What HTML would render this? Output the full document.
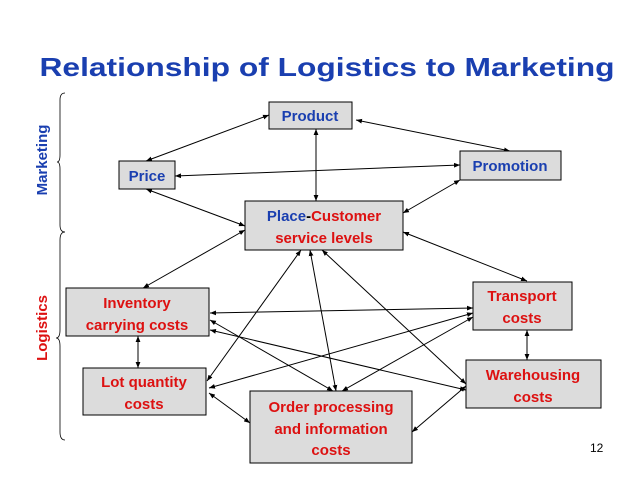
<!DOCTYPE html>
<html><head><meta charset="utf-8"><style>
html,body{margin:0;padding:0;background:#fff;}
svg{display:block;font-family:"Liberation Sans",Arial,sans-serif;}
</style></head><body>
<svg width="638" height="479" viewBox="0 0 638 479" xmlns="http://www.w3.org/2000/svg">
<defs>
<marker id="a" viewBox="0 0 10 10" refX="10" refY="5" markerWidth="6" markerHeight="6" orient="auto-start-reverse"><path d="M0,1 L10,5 L0,9 z" fill="#000"/></marker>
</defs>
<text x="327" y="76" text-anchor="middle" font-size="26" font-weight="bold" fill="#1a3fb0" textLength="575" lengthAdjust="spacingAndGlyphs">Relationship of Logistics to Marketing</text>
<text transform="translate(47,160) rotate(-90)" text-anchor="middle" font-size="15" font-weight="bold" fill="#1a3fb0">Marketing</text>
<text transform="translate(47,328) rotate(-90)" text-anchor="middle" font-size="15" font-weight="bold" fill="#dd1111">Logistics</text>
<g fill="none" stroke="#000" stroke-width="0.8">
<path d="M65,93 Q60,93 60,100 L60,155 Q60,162 57,162 Q60,162 60,169 L60,225 Q60,232 65,232"/>
<path d="M65,232 Q60,232 60,240 L60,330 Q60,338 56,338 Q60,338 60,346 L60,432 Q60,440 65,440"/>
</g>
<g stroke="#000" stroke-width="1" fill="none" marker-start="url(#a)" marker-end="url(#a)">
<line x1="269" y1="115" x2="146" y2="161"/>
<line x1="316" y1="129" x2="316" y2="201"/>
<line x1="356" y1="120" x2="510" y2="151"/>
<line x1="460" y1="165" x2="175" y2="176"/>
<line x1="146" y1="189" x2="245" y2="226"/>
<line x1="460" y1="180" x2="403" y2="213"/>
<line x1="245" y1="230" x2="143" y2="288"/>
<line x1="403" y1="232" x2="527" y2="281"/>
<line x1="301" y1="250" x2="207" y2="381"/>
<line x1="310" y1="250" x2="336" y2="391"/>
<line x1="322" y1="250" x2="466" y2="384"/>
<line x1="210" y1="313" x2="473" y2="308"/>
<line x1="210" y1="320" x2="333" y2="391"/>
<line x1="210" y1="330" x2="466" y2="390"/>
<line x1="138" y1="336" x2="138" y2="368"/>
<line x1="209" y1="388" x2="473" y2="313"/>
<line x1="209" y1="393" x2="250" y2="423"/>
<line x1="342" y1="391" x2="473" y2="317"/>
<line x1="412" y1="432" x2="466" y2="386"/>
<line x1="527" y1="330" x2="527" y2="360"/>
</g>
<g fill="#dcdcdc" stroke="#000" stroke-width="1">
<rect x="269" y="102" width="83" height="27"/>
<rect x="119" y="161" width="56" height="28"/>
<rect x="460" y="151" width="101" height="29"/>
<rect x="245" y="201" width="158" height="49"/>
<rect x="66" y="288" width="143" height="48"/>
<rect x="473" y="282" width="99" height="48"/>
<rect x="83" y="368" width="123" height="47"/>
<rect x="250" y="391" width="162" height="72"/>
<rect x="466" y="360" width="135" height="48"/>
</g>
<g font-size="15" font-weight="bold" text-anchor="middle">
<text x="310" y="121" fill="#1a3fb0">Product</text>
<text x="147" y="181" fill="#1a3fb0">Price</text>
<text x="510" y="171" fill="#1a3fb0">Promotion</text>
<text x="324" y="221"><tspan fill="#1a3fb0">Place</tspan><tspan fill="#000">-</tspan><tspan fill="#dd1111">Customer</tspan></text>
<text x="324" y="243" fill="#dd1111">service levels</text>
<g fill="#dd1111">
<text x="137" y="308">Inventory</text>
<text x="137" y="330">carrying costs</text>
<text x="522" y="301">Transport</text>
<text x="522" y="323">costs</text>
<text x="144" y="387">Lot quantity</text>
<text x="144" y="409">costs</text>
<text x="331" y="412">Order processing</text>
<text x="331" y="434">and information</text>
<text x="331" y="455">costs</text>
<text x="533" y="380">Warehousing</text>
<text x="533" y="402">costs</text>
</g>
</g>
<text x="590" y="452" font-size="12" fill="#000">12</text>
</svg>
</body></html>
